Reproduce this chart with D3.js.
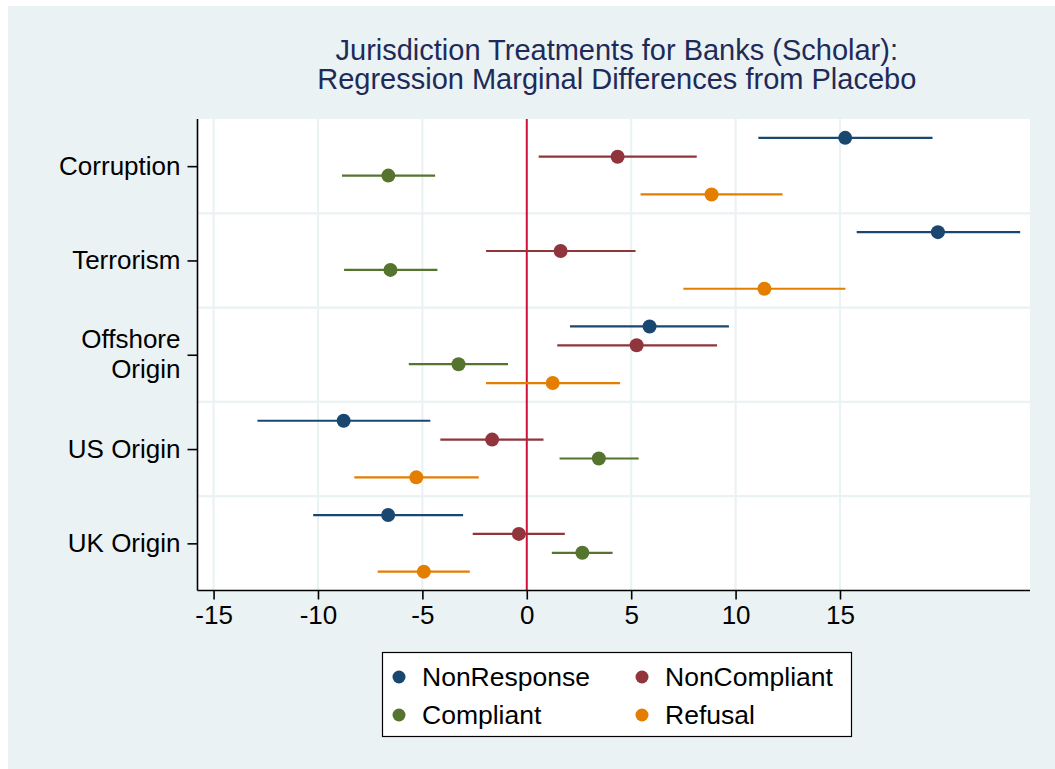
<!DOCTYPE html>
<html>
<head>
<meta charset="utf-8">
<script src="https://cdn.jsdelivr.net/npm/d3@7"></script>
<style>
  html, body { margin: 0; padding: 0; background: #ffffff; }
  svg { display: block; font-family: "Liberation Sans", Arial, Helvetica, sans-serif; }
</style>
</head>
<body>
<svg id="chart" width="1055" height="769"></svg>
<script>
// ---- Data ----
const categories = [["Corruption"], ["Terrorism"], ["Offshore", "Origin"], ["US Origin"], ["UK Origin"]];
const seriesNames = ["NonResponse", "NonCompliant", "Compliant", "Refusal"];
const seriesColors = ["#1a476f", "#90353b", "#55752f", "#e37e00"];
const xTicks = [-15, -10, -5, 0, 5, 10, 15];

// point estimates and confidence bounds per series, in category order
const nonResponseEst   = [15.25, 19.69, 5.88, -8.77, -6.64];
const nonResponseLo    = [11.09, 15.80, 2.07, -12.90, -10.23];
const nonResponseHi    = [19.43, 23.63, 9.68, -4.62, -3.05];

const nonCompliantEst  = [4.35, 1.62, 5.26, -1.66, -0.38];
const nonCompliantLo   = [0.57, -1.95, 1.46, -4.14, -2.59];
const nonCompliantHi   = [8.14, 5.21, 9.11, 0.80, 1.82];

const compliantEst     = [-6.63, -6.53, -3.27, 3.45, 2.66];
const compliantLo      = [-8.85, -8.75, -5.65, 1.57, 1.20];
const compliantHi      = [-4.39, -4.28, -0.90, 5.36, 4.11];

const refusalEst       = [8.85, 11.38, 1.24, -5.29, -4.93];
const refusalLo        = [5.45, 7.50, -1.95, -8.26, -7.14];
const refusalHi        = [12.25, 15.26, 4.47, -2.30, -2.73];

const titleLines = ["Jurisdiction Treatments for Banks (Scholar):", "Regression Marginal Differences from Placebo"];

// ---- Build table ----
const seriesData = [
  [nonResponseEst, nonResponseLo, nonResponseHi],
  [nonCompliantEst, nonCompliantLo, nonCompliantHi],
  [compliantEst, compliantLo, compliantHi],
  [refusalEst, refusalLo, refusalHi]
];
const offsets = [-0.3, -0.1, 0.1, 0.3];
const rows = [];
seriesData.forEach((s, si) => {
  categories.forEach((c, ci) => {
    rows.push({ series: si, cat: ci, est: s[0][ci], lo: s[1][ci], hi: s[2][ci] });
  });
});

// ---- Layout ----
const svg = d3.select("#chart");
const W = 1055, H = 769;
const plot = { left: 197.5, right: 1030, top: 119, bottom: 590.5 };

svg.append("rect").attr("x", 0).attr("y", 0).attr("width", W).attr("height", H).attr("fill", "#ffffff");
svg.append("rect").attr("x", 8).attr("y", 6).attr("width", W - 8).attr("height", H - 6).attr("fill", "#eaf2f3");
svg.append("rect").attr("x", plot.left).attr("y", plot.top)
  .attr("width", plot.right - plot.left).attr("height", plot.bottom - plot.top).attr("fill", "#ffffff");

const x = d3.scaleLinear().domain([-15.77, 24.1]).range([plot.left, plot.right]);
const y = d3.scaleLinear().domain([0.5, 5.5]).range([plot.top, plot.bottom]);

// grid lines
const grid = svg.append("g");
grid.selectAll("line.v").data(xTicks.filter(t => t !== 0)).join("line")
  .attr("x1", d => x(d)).attr("x2", d => x(d))
  .attr("y1", plot.top).attr("y2", plot.bottom)
  .attr("stroke", "#eaf2f3").attr("stroke-width", 2.2);
grid.selectAll("line.h").data(d3.range(1.5, categories.length, 1)).join("line")
  .attr("x1", plot.left).attr("x2", plot.right)
  .attr("y1", d => y(d)).attr("y2", d => y(d))
  .attr("stroke", "#eaf2f3").attr("stroke-width", 2.2);

// reference line at 0
svg.append("line").attr("x1", x(0)).attr("x2", x(0))
  .attr("y1", plot.top).attr("y2", plot.bottom)
  .attr("stroke", "#d0103a").attr("stroke-width", 2);

// CIs and points
const marks = svg.append("g");
marks.selectAll("line.ci").data(rows).join("line")
  .attr("x1", d => x(d.lo)).attr("x2", d => x(d.hi))
  .attr("y1", d => y(d.cat + 1 + offsets[d.series]))
  .attr("y2", d => y(d.cat + 1 + offsets[d.series]))
  .attr("stroke", d => seriesColors[d.series]).attr("stroke-width", 2.2);
marks.selectAll("circle.pt").data(rows).join("circle")
  .attr("cx", d => x(d.est)).attr("cy", d => y(d.cat + 1 + offsets[d.series]))
  .attr("r", 7).attr("fill", d => seriesColors[d.series]);

// x axis
const xAxis = d3.axisBottom(x).tickValues(xTicks).tickSize(9).tickSizeOuter(0).tickPadding(6)
  .tickFormat(d => d < 0 ? "-" + Math.abs(d) : String(d));
const gx = svg.append("g").attr("transform", `translate(0,${plot.bottom})`).call(xAxis);
gx.select(".domain").attr("stroke", "#000").attr("stroke-width", 1.6)
  .attr("d", `M${plot.left},0H${plot.right}`);
gx.selectAll(".tick line").attr("stroke", "#000").attr("stroke-width", 1.6);
gx.selectAll(".tick text").attr("font-size", 26).attr("fill", "#000")
  .attr("font-family", "'Liberation Sans', Arial, sans-serif");

// y axis
const yAxis = d3.axisLeft(y).tickValues(d3.range(1, categories.length + 1)).tickSize(10).tickSizeOuter(0)
  .tickFormat(() => "");
const gy = svg.append("g").attr("transform", `translate(${plot.left},0)`).call(yAxis);
gy.select(".domain").attr("stroke", "#000").attr("stroke-width", 1.6)
  .attr("d", `M0,${plot.top}V${plot.bottom}`);
gy.selectAll(".tick line").attr("stroke", "#000").attr("stroke-width", 1.6);
gy.selectAll(".tick").each(function(d) {
  const lines = categories[d - 1];
  const sel = d3.select(this);
  lines.forEach((ln, i) => {
    sel.append("text")
      .attr("x", -17).attr("text-anchor", "end").attr("fill", "#000")
      .attr("font-size", 26)
      .attr("y", 8 + (i - (lines.length - 1) / 2) * 30)
      .text(ln);
  });
});

// title
const title = svg.append("g").attr("fill", "#1e2b59").attr("font-size", 29).attr("text-anchor", "middle");
titleLines.forEach((t, i) => {
  title.append("text").attr("x", (plot.left + plot.right) / 2 + 3).attr("y", 60 + i * 29).text(t);
});

// legend
const lg = svg.append("g");
lg.append("rect").attr("x", 382.5).attr("y", 652.5).attr("width", 469).attr("height", 84)
  .attr("fill", "#ffffff").attr("stroke", "#000").attr("stroke-width", 1.2);
const colX = [399, 642];
const rowY = [677, 715];
seriesNames.forEach((name, i) => {
  const cx = colX[i % 2], cy = rowY[Math.floor(i / 2)];
  lg.append("circle").attr("cx", cx).attr("cy", cy).attr("r", 6.5).attr("fill", seriesColors[i]);
  lg.append("text").attr("x", cx + 23).attr("y", cy + 9).attr("font-size", 26.5).attr("fill", "#000").text(name);
});
</script>
</body>
</html>
